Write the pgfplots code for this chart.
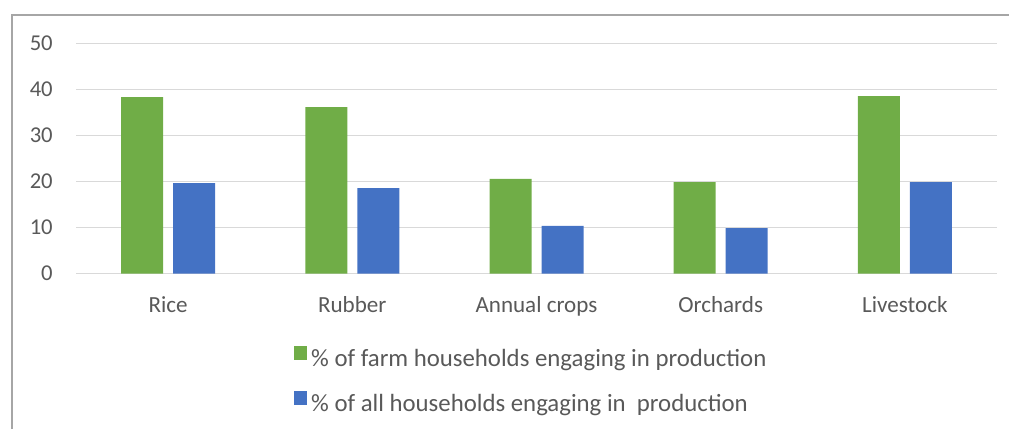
\documentclass[border=0pt]{standalone}
\usepackage{pgfplots}
\pgfplotsset{compat=1.18}
\usepackage{fontspec}
\setmainfont{Carlito}
\definecolor{cgreen}{HTML}{70AD47}
\definecolor{cblue}{HTML}{4472C4}
\definecolor{cgrid}{HTML}{D9D9D9}
\definecolor{ctext}{HTML}{595959}
\definecolor{cframe}{HTML}{A6A6A6}
\begin{document}
\begin{tikzpicture}
\useasboundingbox (0,0) rectangle (756.75pt,321.75pt);
\draw[cframe, line width=1.1pt] (9pt,0) -- (9pt,310.5pt) -- (760pt,310.5pt);
\begin{axis}[
  at={(57pt,116.475pt)}, anchor=south west,
  scale only axis, width=690.75pt, height=172.5pt,
  xmin=-0.5, xmax=4.5, ymin=0, ymax=50,
  ytick={0,10,20,30,40,50},
  xtick={0,1,2,3,4},
  xticklabels={Rice,Rubber,Annual crops,Orchards,Livestock},
  ymajorgrids, grid style={cgrid, line width=1pt},
  axis line style={draw=none},
  major tick length=0pt,
  ybar=7.5pt, bar width=31.5pt,
  clip=false,
  yticklabel style={font=\fontsize{17}{19}\selectfont, text=ctext, inner sep=0pt, anchor=east, xshift=-17.25pt},
  xticklabel style={font=\fontsize{17.3}{19}\selectfont, text=ctext, inner sep=0pt, anchor=base, yshift=-29.2pt},
  /pgf/number format/assume math mode=true,
  legend style={at={(0.236,-0.315)}, anchor=north west, draw=none, fill=none, inner sep=0pt, row sep=17pt,
     font=\fontsize{18.6}{20}\selectfont, text=ctext,
     nodes={inner sep=0pt}},
  legend cell align=left,
  legend image code/.code={\fill[#1] (0pt,-0.6pt) rectangle (10.1pt,9.6pt);},
]
\draw[cgrid, line width=1pt] (axis cs:-0.5,0) -- (axis cs:4.5,0);
\addplot[fill=cgreen, draw=none] coordinates {(0,38.4) (1,36.2) (2,20.6) (3,19.9) (4,38.6)};
\addlegendentry{\,\% of farm households engaging in production}
\addplot[fill=cblue, draw=none] coordinates {(0,19.7) (1,18.6) (2,10.4) (3,9.9) (4,19.9)};
\addlegendentry{\,\% of all households engaging in\ \ production}
\end{axis}
\end{tikzpicture}
\end{document}
